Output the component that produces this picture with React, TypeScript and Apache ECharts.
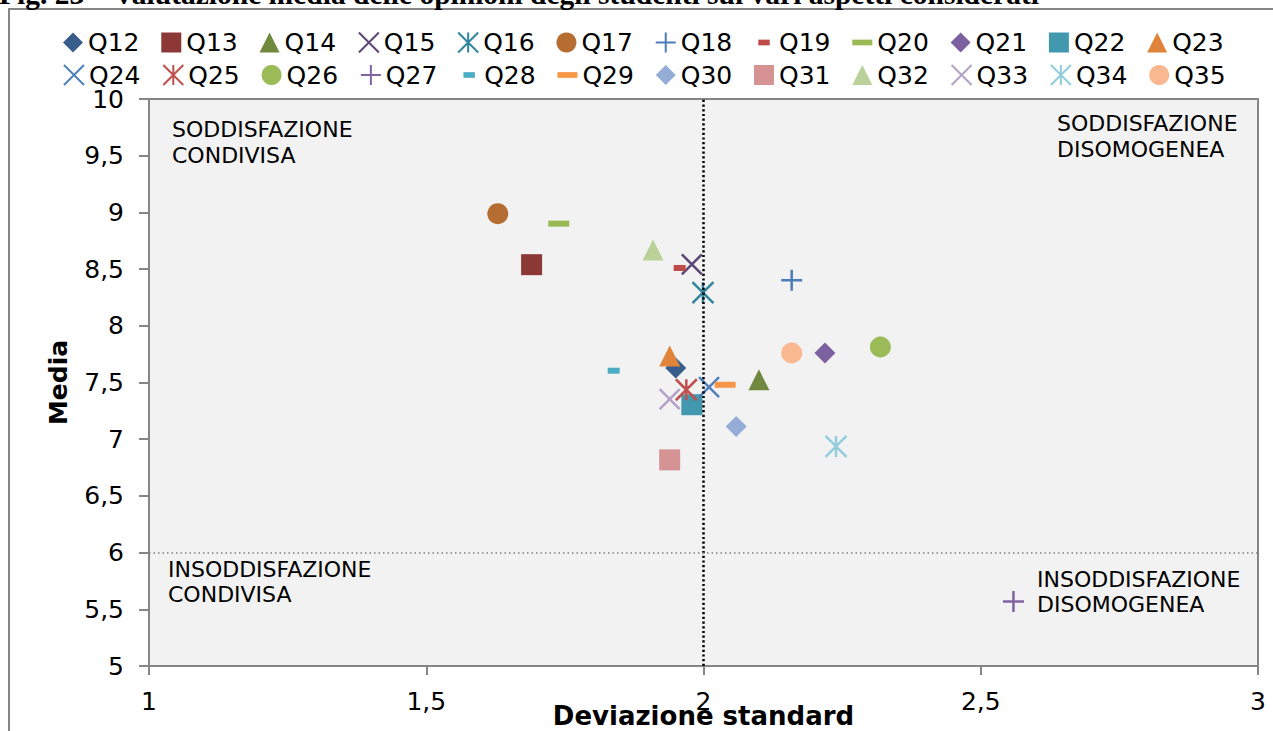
import { useEffect, useRef } from 'react';
import * as echarts from 'echarts';

const names = ['Q12','Q13','Q14','Q15','Q16','Q17','Q18','Q19','Q20','Q21','Q22','Q23','Q24','Q25','Q26','Q27','Q28','Q29','Q30','Q31','Q32','Q33','Q34','Q35'];
const devStd = [1.950, 1.690, 2.100, 1.979, 1.999, 1.629, 2.159, 1.957, 1.739, 2.219, 1.979, 1.939, 2.010, 1.969, 2.319, 2.559, 1.838, 2.039, 2.059, 1.939, 1.909, 1.939, 2.239, 2.159];
const media = [7.628, 8.539, 7.524, 8.542, 8.292, 8.989, 8.401, 8.510, 8.901, 7.760, 7.304, 7.733, 7.460, 7.436, 7.813, 5.568, 7.604, 7.480, 7.112, 6.818, 8.669, 7.354, 6.936, 7.760];
const colors = ['#385D8A','#8C3836','#71893F','#5C4776','#31859C','#B66D31','#4A7EBB','#BE4B48','#98B954','#7D60A0','#4198AF','#E0843B','#4F81BD','#C0504D','#9BBB59','#8064A2','#4BACC6','#F79646','#95ADD6','#D59393','#BAD199','#B3A2C7','#93CDDD','#FAB890'];
const kinds = ['diamond','rect','triangle','x','asterisk','circle','plus','dashS','dashL','diamond','rect','triangle','x','asterisk','circle','plus','dashS','dashL','diamond','rect','triangle','x','asterisk','circle'];

const quadrantLabels = [
  { text: 'SODDISFAZIONE\nCONDIVISA', left: 172, top: 116, lh: 26 },
  { text: 'SODDISFAZIONE\nDISOMOGENEA', left: 1057, top: 110, lh: 26 },
  { text: 'INSODDISFAZIONE\nCONDIVISA', left: 168, top: 557, lh: 25 },
  { text: 'INSODDISFAZIONE\nDISOMOGENEA', left: 1037, top: 567, lh: 25 },
];

const titleText = 'Fig. 23 \u2013 Valutazione media delle opinioni degli studenti sui vari aspetti considerati';

const SYMBOLS: Record<string, string> = {
  diamond: 'diamond',
  rect: 'rect',
  triangle: 'triangle',
  circle: 'circle',
  x: 'path://M0,0L21,21M21,0L0,21',
  asterisk: 'path://M0,0L21,21M21,0L0,21M10.5,0L10.5,21',
  plus: 'path://M10.5,0L10.5,21M0,10.5L21,10.5',
  dashS: 'path://M0,0M4.5,7.5L16.5,7.5L16.5,13.5L4.5,13.5ZM21,21',
  dashL: 'path://M0,0M0,7.5L21,7.5L21,13.5L0,13.5ZM21,21',
};
const stroked = new Set(['x', 'asterisk', 'plus']);

const fmt = (v: number) => String(v).replace('.', ',');

export default function App() {
  const ref = useRef<HTMLDivElement>(null);
  useEffect(() => {
    if (!ref.current) return;
    const chart = echarts.init(ref.current, undefined, { renderer: 'svg' });
    const axisGray = '#868686';
    const legendBase = {
      orient: 'horizontal',
      left: 63,
      padding: 0,
      itemWidth: 20,
      itemHeight: 20,
      itemGap: 21.8,
      textStyle: { fontFamily: 'DejaVu Sans', fontSize: 25, color: '#000' },
      selectedMode: false,
    };
    const series: any[] = names.map((n, i) => ({
      type: 'scatter',
      name: n,
      data: [[devStd[i], media[i]]],
      symbol: SYMBOLS[kinds[i]],
      symbolSize: kinds[i] === 'x' ? 20 : 21,
      itemStyle: {
        color: colors[i],
        borderColor: colors[i],
        borderWidth: stroked.has(kinds[i]) ? 2.5 : 0,
        opacity: 1,
      },
      emphasis: { disabled: true },
      z: 2,
    }));
    series.push({
      type: 'scatter',
      name: 'lines',
      data: [],
      z: 5,
      silent: true,
      markLine: {
        silent: true,
        symbol: ['none', 'none'],
        label: { show: false },
        emphasis: { disabled: true },
        animation: false,
        data: [
          { xAxis: 2, lineStyle: { color: '#000', width: 2.5, type: [2.2, 2.5] } },
          { yAxis: 6, lineStyle: { color: '#7f7f7f', width: 1.5, type: [1.5, 3] } },
        ],
      },
    });
    chart.setOption({
      animation: false,
      textStyle: { fontFamily: 'DejaVu Sans' },
      grid: {
        left: 149,
        right: 15,
        top: 99,
        bottom: 65,
        show: true,
        backgroundColor: '#f2f2f2',
        borderColor: axisGray,
        borderWidth: 2,
        outerBoundsMode: 'none',
      },
      legend: [
        { ...legendBase, top: 30, data: names.slice(0, 12) },
        { ...legendBase, top: 62.5, data: names.slice(12) },
      ],
      xAxis: {
        type: 'value',
        min: 1,
        max: 3,
        interval: 0.5,
        name: 'Deviazione standard',
        nameLocation: 'middle',
        nameGap: 37,
        nameMoveOverlap: false,
        nameTextStyle: { fontFamily: 'DejaVu Sans', fontWeight: 'bold', fontSize: 26, color: '#000' },
        axisLine: { show: true, lineStyle: { color: axisGray, width: 2 } },
        axisTick: { show: true, length: 9, lineStyle: { color: axisGray, width: 2 } },
        splitLine: { show: false },
        axisLabel: { formatter: fmt, fontSize: 25, color: '#000', margin: 23 },
      },
      yAxis: {
        type: 'value',
        min: 5,
        max: 10,
        interval: 0.5,
        name: 'Media',
        nameLocation: 'middle',
        nameGap: 78,
        nameMoveOverlap: false,
        nameRotate: 90,
        nameTextStyle: { fontFamily: 'DejaVu Sans', fontWeight: 'bold', fontSize: 25, color: '#000' },
        axisLine: { show: true, lineStyle: { color: axisGray, width: 2 } },
        axisTick: { show: true, length: 10, lineStyle: { color: axisGray, width: 2 } },
        splitLine: { show: false },
        axisLabel: { formatter: fmt, fontSize: 25, color: '#000', margin: 25 },
      },
      graphic: [
        {
          type: 'rect',
          silent: true,
          z: 0,
          shape: { x: 9, y: 9, width: 1300, height: 760 },
          style: { fill: 'none', stroke: axisGray, lineWidth: 2 },
        },
        {
          type: 'text',
          silent: true,
          x: -1,
          y: -6,
          style: {
            text: titleText,
            fontFamily: 'Liberation Serif',
            fontWeight: 'bold',
            fontSize: 29.5,
            fill: '#000',
            verticalAlign: 'middle',
            align: 'left',
          },
        },
        ...quadrantLabels.map((q) => ({
          type: 'text',
          silent: true,
          left: q.left,
          top: q.top,
          z: 10,
          style: {
            text: q.text,
            fontFamily: 'DejaVu Sans',
            fontSize: 22,
            lineHeight: q.lh,
            fill: '#000',
          },
        })),
      ],
      series,
    });
    return () => chart.dispose();
  }, []);
  return <div ref={ref} style={{ position: 'absolute', left: 0, top: 0, width: 1273, height: 731 }} />;
}
